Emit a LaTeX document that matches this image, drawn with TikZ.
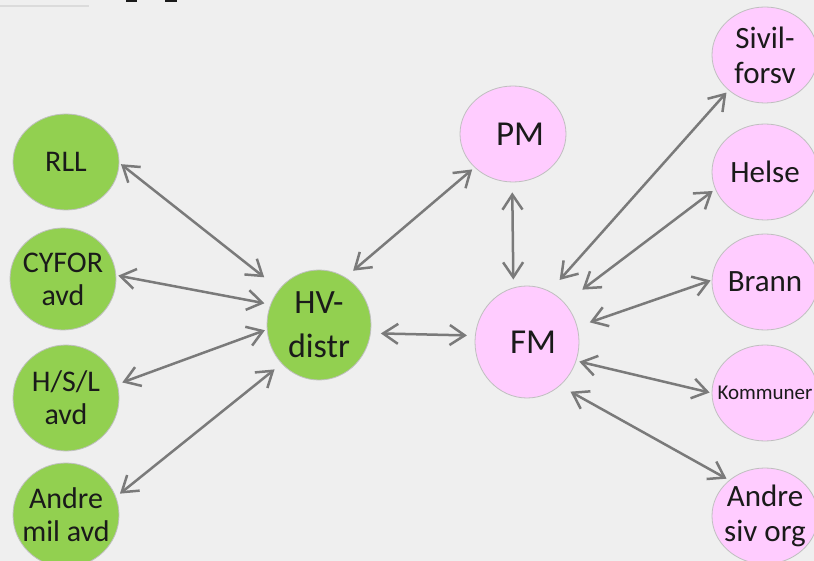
\documentclass[tikz,border=0pt]{standalone}
\usepackage{fontspec}
\setmainfont{Carlito}
\usetikzlibrary{shapes.geometric,arrows.meta}

\definecolor{bgGray}{HTML}{EFEFEF}
\definecolor{milGreen}{HTML}{92D050}
\definecolor{sivPink}{HTML}{FFCCFF}
\definecolor{rimGray}{HTML}{BFBFBF}
\definecolor{linkGray}{HTML}{7A7A7A}
\definecolor{inkBlack}{HTML}{1A1A1A}

\begin{document}
\begin{tikzpicture}[x=1pt,y=-1pt,
    org/.style={ellipse, draw=rimGray, line width=0.8pt, inner sep=-14pt,
      minimum width=106pt, minimum height=96pt, align=center, text=inkBlack},
    mil/.style={org, fill=milGreen, font=\fontsize{30}{33}\selectfont},
    siv/.style={org, fill=sivPink, font=\fontsize{31}{35}\selectfont},
    link/.style={linkGray, line width=2.5pt,
      {Straight Barb[length=15pt,width=20pt]}-{Straight Barb[length=15pt,width=20pt]}}]

% frame of the slide
\useasboundingbox (0,0) rectangle (814,561);
\fill[bgGray] (0,0) rectangle (814,561);
\draw[color=black!14, line width=2pt] (0,6.5) -- (89,6.5);
\fill[inkBlack] (126,0) rectangle (137,2);
\fill[inkBlack] (165,0) rectangle (177,2);

% military side (green)
\node[mil] (rll) at (66,162) {RLL};
\node[mil, minimum height=102pt] (cyfor) at (63,279) {CYFOR\\avd};
\node[mil, minimum height=106pt] (hsl) at (66,398) {H/S/L\\avd};
\node[mil, minimum height=104pt] (amil) at (66,515) {Andre\\mil avd};
\node[mil, minimum width=104pt, minimum height=110pt,
      font=\fontsize{34}{44}\selectfont] (hv) at (319,325) {HV-\\distr};

% civil side (pink)
\node[siv, font=\fontsize{35}{40}\selectfont] (pm) at (513,134) {\hspace*{14pt}PM};
\node[siv, minimum width=104pt, minimum height=112pt,
      font=\fontsize{35}{40}\selectfont] (fm) at (527,342) {\hspace*{12pt}FM};
\node[siv] (sivil) at (765,55) {Sivil-\\forsv};
\node[siv] (helse) at (765,172) {Helse};
\node[siv] (brann) at (765,282) {Brann};
\node[siv, font=\fontsize{21}{25}\selectfont] (komm) at (765,393) {Kommuner};
\node[siv] (asiv) at (765,516) {Andre\\siv org};

% links into HV-distr
\draw[link, shorten <=2pt, shorten >=19pt] (rll.-1) -- (hv.138);
\draw[link, shorten <=2pt, shorten >=6pt] (cyfor.4) -- (hv.157);
\draw[link, shorten <=5pt, shorten >=2pt] (hsl.15) -- (hv.185);
\draw[link, shorten <=5pt, shorten >=9pt] (amil.20) -- (hv.226);

% HV-distr, PM and FM
\draw[link, shorten <=10pt, shorten >=3pt] (hv.61) -- (pm.221);
\draw[link, shorten <=10pt, shorten >=8pt] (hv.-9) -- (fm.173);
\draw[link, shorten <=10pt, shorten >=8pt] (pm.-91) -- (fm.104);

% links out of FM
\draw[link, shorten <=15pt, shorten >=3pt] (fm.66) -- (sivil.224);
\draw[link, shorten <=22pt, shorten >=3pt] (fm.46) -- (helse.199);
\draw[link, shorten <=13pt, shorten >=1pt] (fm.17) -- (brann.178);
\draw[link, shorten <=3pt, shorten >=2pt] (fm.-21) -- (komm.180);
\draw[link, shorten <=12pt, shorten >=3pt] (fm.-53) -- (asiv.135);

\end{tikzpicture}
\end{document}
